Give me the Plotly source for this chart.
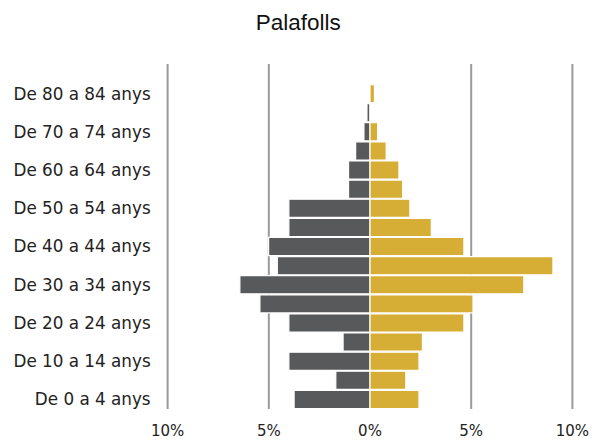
import plotly.graph_objects as go

ages = ["De 0 a 4 anys", "De 5 a 9 anys", "De 10 a 14 anys", "De 15 a 19 anys",
        "De 20 a 24 anys", "De 25 a 29 anys", "De 30 a 34 anys", "De 35 a 39 anys",
        "De 40 a 44 anys", "De 45 a 49 anys", "De 50 a 54 anys", "De 55 a 59 anys",
        "De 60 a 64 anys", "De 65 a 69 anys", "De 70 a 74 anys", "De 75 a 79 anys",
        "De 80 a 84 anys"]
men = [3.75, 1.69, 4.01, 1.33, 4.01, 5.44, 6.43, 4.58, 5.01, 4.01, 4.01, 1.06,
       1.06, 0.71, 0.3, 0.15, 0.0]
women = [2.42, 1.77, 2.42, 2.59, 4.64, 5.09, 7.6, 9.04, 4.64, 3.03, 1.97, 1.61,
         1.43, 0.8, 0.38, 0.0, 0.22]
x_tickvals = [-10, -5, 0, 5, 10]
x_ticktext = ["10%", "5%", "0%", "5%", "10%"]
grid_vals = [-10, -5, 5, 10]

idx = list(range(len(ages)))

fig = go.Figure()
fig.add_trace(go.Bar(
    y=idx, x=[-v for v in men], orientation="h", name="Homes",
    marker=dict(color="#58595b", line=dict(color="white", width=1.2)),
    width=0.95, showlegend=False))
fig.add_trace(go.Bar(
    y=idx, x=women, orientation="h", name="Dones",
    marker=dict(color="#d6ae35", line=dict(color="white", width=1.2)),
    width=0.95, showlegend=False))

for g in grid_vals:
    fig.add_vline(x=g, line=dict(color="#9a9a9a", width=2), layer="below")

fig.update_layout(
    width=600, height=446,
    barmode="overlay",
    plot_bgcolor="white", paper_bgcolor="white",
    margin=dict(l=166, r=26, t=64, b=37, autoexpand=False),
    title=dict(text="Palafolls", x=0.497, xanchor="center", y=0.95, yanchor="middle",
               font=dict(family="Liberation Sans, Arial", size=22.5, color="#111")),
    font=dict(family="DejaVu Sans, Verdana", size=14, color="#222"),
    xaxis=dict(range=[-10.08, 10.08], tickvals=x_tickvals, ticktext=x_ticktext,
               showgrid=False, zeroline=False,
               showline=False, ticks="outside", ticklen=8, tickcolor="rgba(0,0,0,0)",
               tickfont=dict(size=15), fixedrange=True),
    yaxis=dict(range=[-0.5, 17.55], tickvals=idx[::2], ticktext=ages[::2],
               showgrid=False, zeroline=False, showline=False,
               ticks="outside", ticklen=11, tickcolor="rgba(0,0,0,0)",
               tickfont=dict(size=16.8)),
)
fig.add_annotation(text="15%", xref="paper", yref="paper", x=-0.406, y=-0.058,
                   xanchor="right", yanchor="middle", showarrow=False,
                   font=dict(family="DejaVu Sans, Verdana", size=15, color="#222"))

fig.write_html("out.html", config={"displayModeBar": False},
               post_script="document.body.style.margin='0';")
